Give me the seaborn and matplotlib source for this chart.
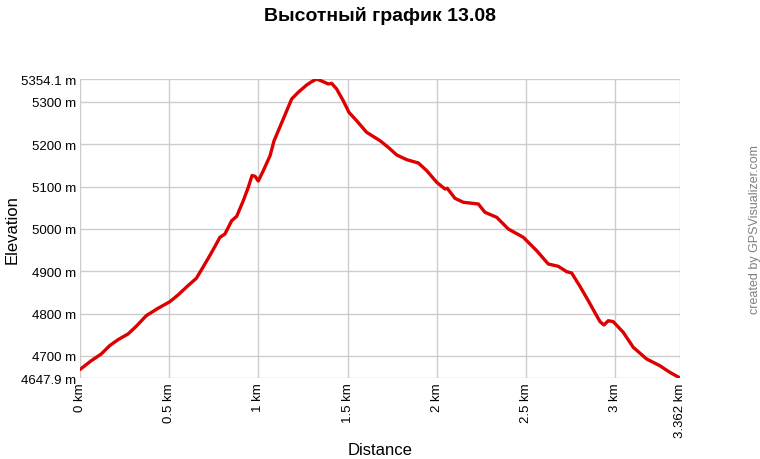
import matplotlib
matplotlib.use("Agg")
import matplotlib.pyplot as plt
import seaborn as sns
import pandas as pd

# Профиль высоты (км, м)
distance_km = [0.0, 0.063, 0.119, 0.166, 0.213, 0.269, 0.315, 0.371, 0.437, 0.503,
               0.549, 0.605, 0.652, 0.689, 0.727, 0.756, 0.784, 0.812, 0.850, 0.878,
               0.915, 0.943, 0.964, 0.981, 0.999, 1.027, 1.065, 1.087, 1.139, 1.186,
               1.223, 1.270, 1.298, 1.326, 1.363, 1.391, 1.410, 1.438, 1.475, 1.507,
               1.550, 1.606, 1.681, 1.727, 1.775, 1.831, 1.896, 1.943, 1.999, 2.045,
               2.058, 2.101, 2.148, 2.232, 2.269, 2.335, 2.400, 2.484, 2.559, 2.624,
               2.680, 2.727, 2.755, 2.802, 2.848, 2.895, 2.914, 2.936, 2.960, 2.988,
               3.044, 3.100, 3.175, 3.249, 3.305, 3.362]
elevation_m = [4668.0, 4688.7, 4704.6, 4724.2, 4738.4, 4751.8, 4770.0, 4795.0, 4812.5, 4828.0,
               4843.9, 4865.9, 4883.4, 4909.4, 4936.8, 4958.5, 4980.2, 4988.0, 5019.4, 5029.8,
               5066.7, 5098.3, 5126.2, 5124.3, 5113.2, 5137.5, 5172.9, 5207.7, 5259.6, 5306.9,
               5322.7, 5339.9, 5347.7, 5354.1, 5347.7, 5342.3, 5343.9, 5330.5, 5302.8, 5275.4,
               5255.6, 5228.2, 5208.4, 5192.8, 5174.6, 5163.5, 5155.7, 5137.5, 5110.1, 5094.3,
               5095.9, 5072.3, 5062.9, 5058.9, 5039.3, 5027.4, 4999.8, 4980.2, 4948.6, 4917.1,
               4911.7, 4899.0, 4895.9, 4864.0, 4830.5, 4795.0, 4780.9, 4773.1, 4783.2, 4780.9,
               4755.8, 4720.4, 4692.8, 4676.9, 4661.3, 4647.9]

x_ticks = [0, 0.5, 1, 1.5, 2, 2.5, 3, 3.362]
x_ticklabels = ["0 km", "0.5 km", "1 km", "1.5 km", "2 km", "2.5 km", "3 km", "3.362 km"]
y_ticks = [4647.9, 4700, 4800, 4900, 5000, 5100, 5200, 5300, 5354.1]
y_ticklabels = ["4647.9 m", "4700 m", "4800 m", "4900 m", "5000 m",
                "5100 m", "5200 m", "5300 m", "5354.1 m"]

df = pd.DataFrame({"dist": distance_km, "elev": elevation_m})

sns.set_style("white")
plt.rcParams["font.family"] = ["Liberation Sans", "DejaVu Sans"]
plt.rcParams["text.color"] = "black"
plt.rcParams["xtick.color"] = "black"
plt.rcParams["ytick.color"] = "black"

fig = plt.figure(figsize=(7.6, 4.6), dpi=100)
ax = fig.add_axes([80 / 760, 1 - 379 / 460, 600 / 760, 299 / 460])

sns.lineplot(data=df, x="dist", y="elev", ax=ax, color="#dd0000", linewidth=2.4, zorder=3)

ax.set_xlim(0, 3.362)
ax.set_ylim(4647.9, 5354.1)
ax.set_xticks(x_ticks)
ax.set_xticklabels(x_ticklabels, rotation=90, fontsize=9.5)
ax.set_yticks(y_ticks)
ax.set_yticklabels(y_ticklabels, fontsize=9.5)
ax.tick_params(length=0, pad=3, colors="black")
ax.grid(True, color="#cccccc", linewidth=1)
for s in ax.spines.values():
    s.set_visible(False)

ax.set_xlabel("")
ax.set_ylabel("")
fig.text(380 / 760, 1 - 451 / 460, "Distance", ha="center", va="center",
         fontsize=12, color="black")
fig.text(12 / 760, 1 - 230 / 460, "Elevation", ha="center", va="center",
         rotation=90, fontsize=12, color="black")
fig.text(380 / 760, 1 - 16 / 460, "Высотный график 13.08", ha="center", va="center",
         fontsize=14, fontweight="bold", color="black",
         family=["Liberation Sans Narrow", "Liberation Sans", "DejaVu Sans"])
fig.text(755 / 760, 1 - 230 / 460, "created by GPSVisualizer.com", ha="center",
         va="center", rotation=90, fontsize=9, color="#808080")

fig.savefig("out.png", dpi=100)
